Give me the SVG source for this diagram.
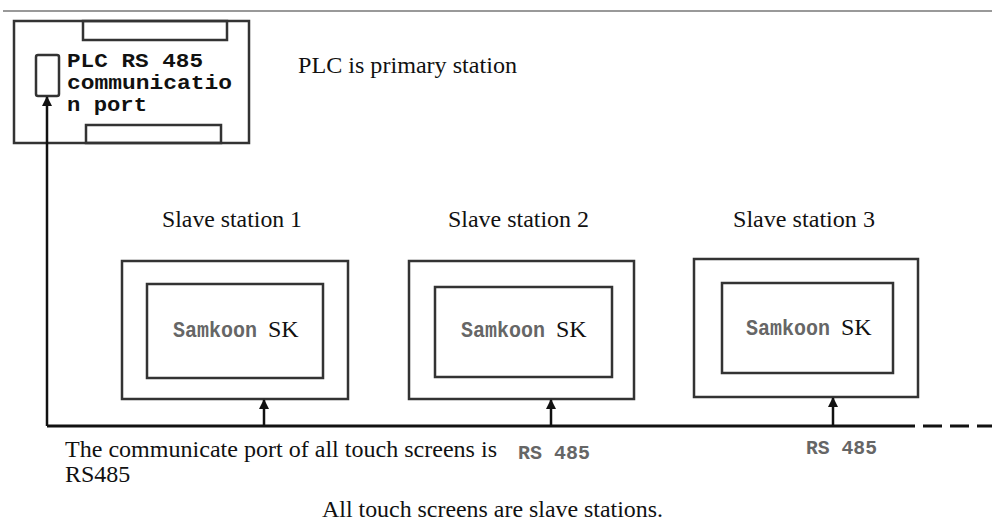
<svg xmlns="http://www.w3.org/2000/svg" width="992" height="522" viewBox="0 0 992 522">
<style>
.box{fill:none;stroke:#333;stroke-width:2.5}
.bus{stroke:#111;stroke-width:3;fill:none}
.tap{stroke:#111;stroke-width:2.5;fill:none}
.lbl{font-family:"Liberation Serif","Times New Roman",serif;font-size:24px;fill:#111}
.plc{font-family:"Liberation Mono","Courier New",monospace;font-weight:bold;font-size:20px;fill:#111}
.sam{font-family:"Liberation Mono","Courier New",monospace;font-weight:bold;font-size:22px;fill:#666}
.rs{font-family:"Liberation Mono","Courier New",monospace;font-weight:bold;font-size:21px;fill:#666}
</style>
<defs>
<marker id="ah" viewBox="0 0 10 10" refX="9" refY="5" markerWidth="4" markerHeight="4" orient="auto" markerUnits="strokeWidth">
<path d="M0,0 L10,5 L0,10 z" fill="#111"/>
</marker>
</defs>
<rect x="0" y="0" width="992" height="522" fill="#fff"/>
<line x1="3" y1="11" x2="992" y2="11" stroke="#999" stroke-width="2"/>

<g id="plc">
<rect class="box" x="14" y="21" width="235" height="122"/>
<rect class="box" x="83" y="21" width="144" height="19"/>
<rect class="box" x="86" y="125" width="135" height="18"/>
<rect class="box" x="36" y="55" width="23" height="41" rx="2"/>
<text class="plc" x="67" y="67" textLength="136" lengthAdjust="spacingAndGlyphs">PLC RS 485</text>
<text class="plc" x="67" y="89" textLength="165" lengthAdjust="spacingAndGlyphs">communicatio</text>
<text class="plc" x="67" y="111" textLength="80" lengthAdjust="spacingAndGlyphs">n port</text>
</g>
<text class="lbl" x="298" y="73" textLength="219" lengthAdjust="spacingAndGlyphs">PLC is primary station</text>

<g id="slave1">
<text class="lbl" x="162" y="227" textLength="140" lengthAdjust="spacingAndGlyphs">Slave station 1</text>
<rect class="box" x="122" y="261" width="226" height="138"/>
<rect class="box" x="147" y="284" width="176" height="94"/>
<text x="173" y="337"><tspan class="sam" textLength="84" lengthAdjust="spacingAndGlyphs">Samkoon</tspan><tspan class="lbl" x="268" font-size="22">SK</tspan></text>
</g>

<g id="slave2">
<text class="lbl" x="448" y="227" textLength="141" lengthAdjust="spacingAndGlyphs">Slave station 2</text>
<rect class="box" x="409" y="261" width="225" height="138"/>
<rect class="box" x="435" y="287" width="177" height="90"/>
<text x="461" y="337"><tspan class="sam" textLength="84" lengthAdjust="spacingAndGlyphs">Samkoon</tspan><tspan class="lbl" x="556" font-size="22">SK</tspan></text>
</g>

<g id="slave3">
<text class="lbl" x="733" y="227" textLength="142" lengthAdjust="spacingAndGlyphs">Slave station 3</text>
<rect class="box" x="694" y="259" width="224" height="138"/>
<rect class="box" x="722" y="283" width="171" height="90"/>
<text x="746" y="335"><tspan class="sam" textLength="84" lengthAdjust="spacingAndGlyphs">Samkoon</tspan><tspan class="lbl" x="841" font-size="22">SK</tspan></text>
</g>

<g id="connectors">
<path class="bus" d="M47,426 H915"/>
<path class="bus" d="M923,426 H992" stroke-dasharray="19 8"/>
<path class="tap" d="M47,426 V97" marker-end="url(#ah)"/>
<path class="tap" d="M264,426 V400" marker-end="url(#ah)"/>
<path class="tap" d="M551,426 V400" marker-end="url(#ah)"/>
<path class="tap" d="M833,426 V398" marker-end="url(#ah)"/>
</g>

<text class="lbl" x="65" y="457" textLength="432" lengthAdjust="spacingAndGlyphs">The communicate port of all touch screens is</text>
<text class="lbl" x="65" y="482">RS485</text>
<text class="rs" x="518" y="459" textLength="72" lengthAdjust="spacingAndGlyphs">RS 485</text>
<text class="rs" x="806" y="454" textLength="71" lengthAdjust="spacingAndGlyphs">RS 485</text>
<text class="lbl" x="322" y="517" textLength="341" lengthAdjust="spacingAndGlyphs">All touch screens are slave stations.</text>
</svg>
